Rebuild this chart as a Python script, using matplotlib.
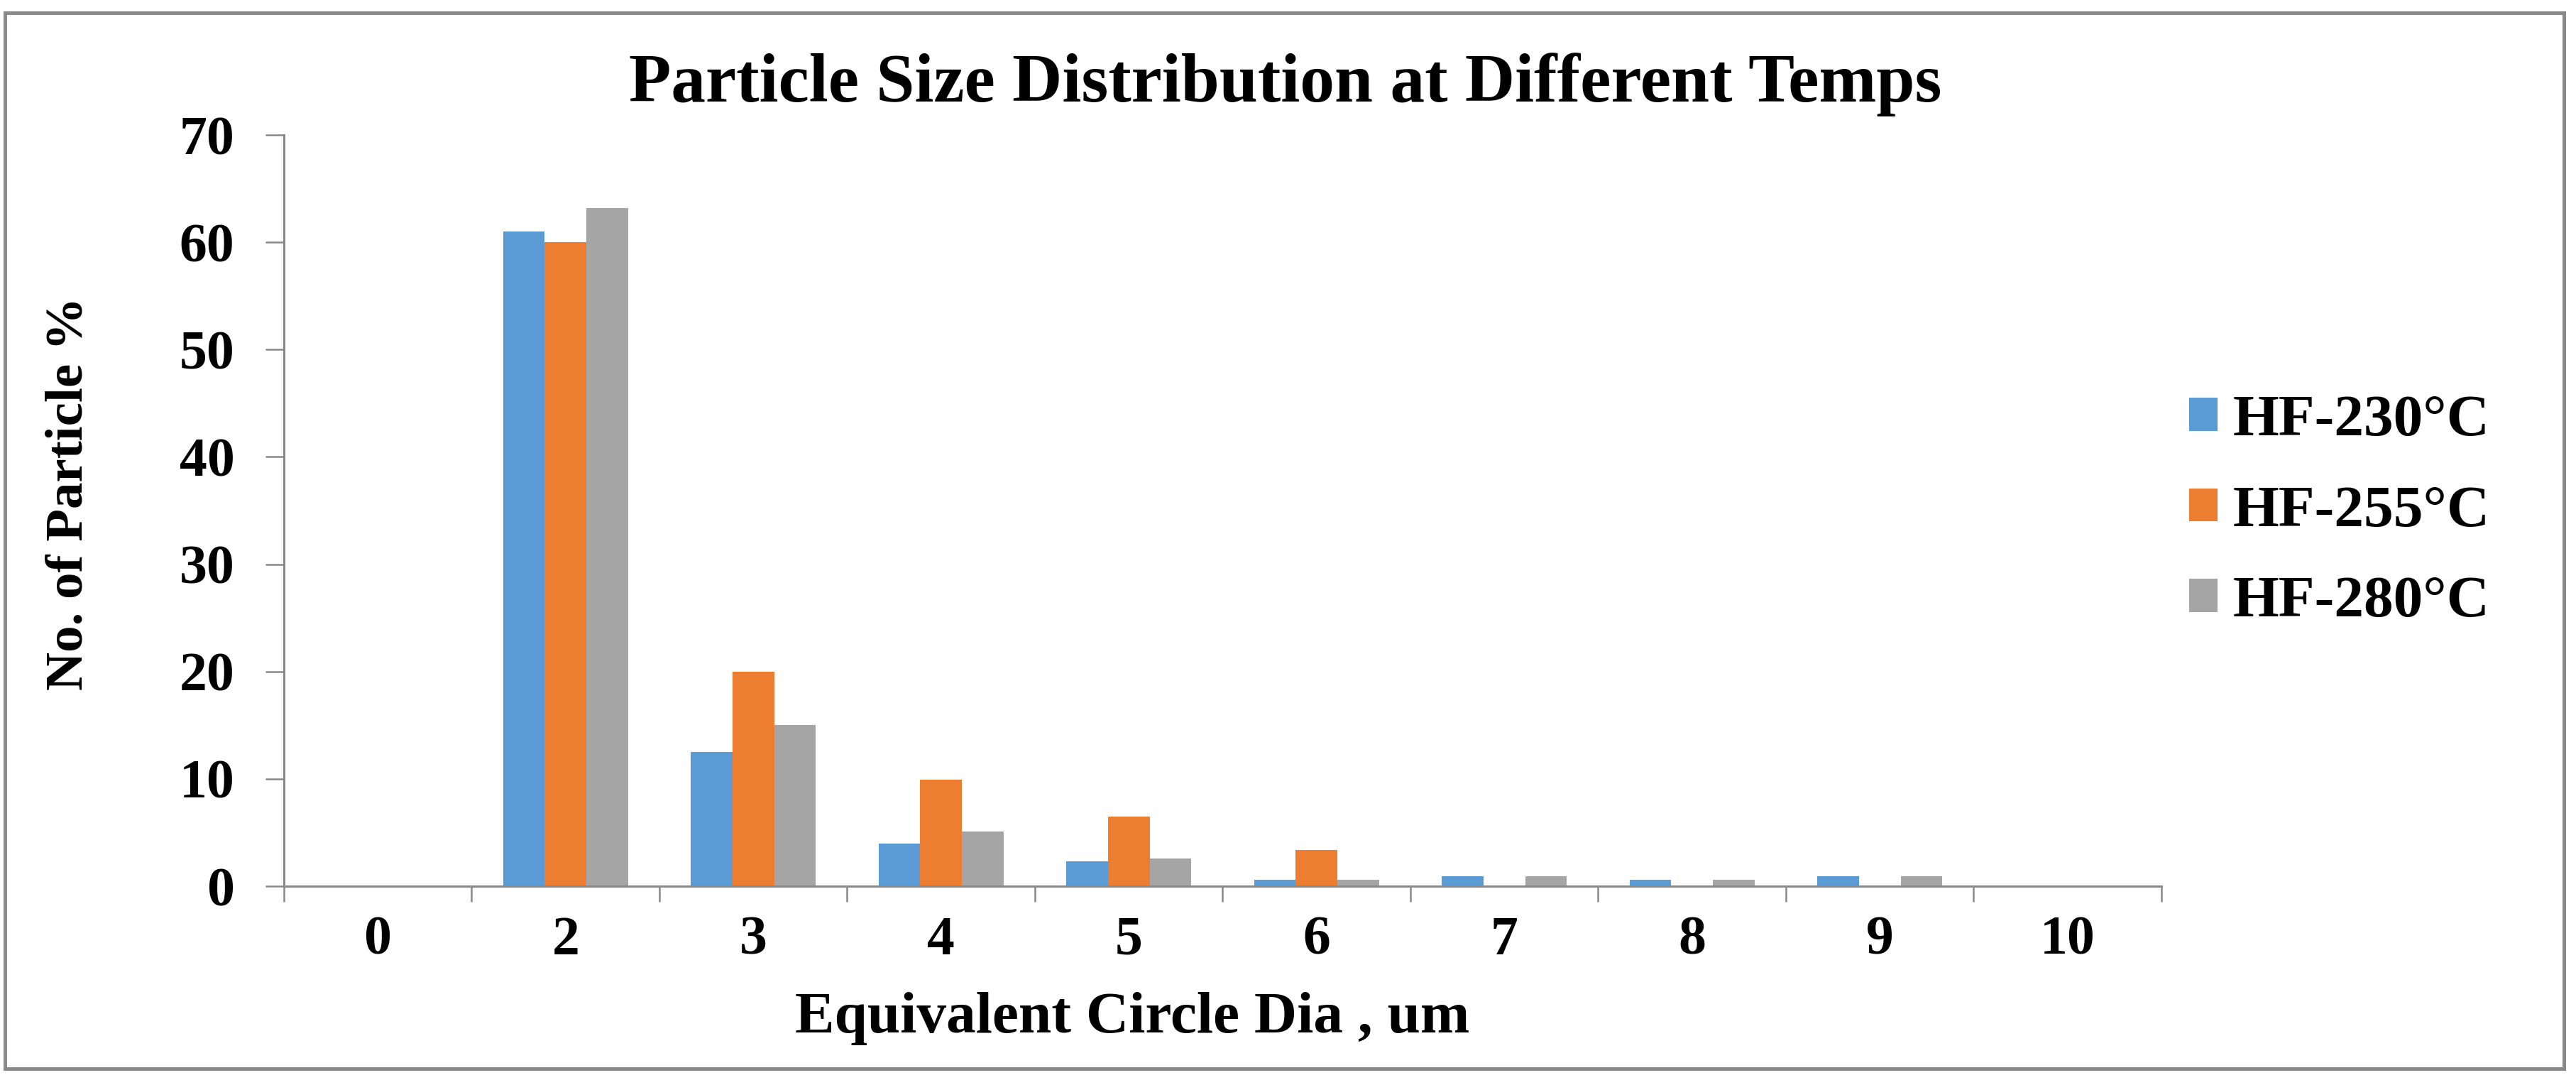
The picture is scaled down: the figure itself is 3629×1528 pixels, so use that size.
import matplotlib
matplotlib.use("Agg")
from matplotlib import pyplot as plt
from matplotlib.patches import Rectangle
import numpy as np

# values
categories = ["0", "2", "3", "4", "5", "6", "7", "8", "9", "10"]
hf230 = [0, 61.0, 12.5, 4.0, 2.3, 0.6, 0.9, 0.6, 0.9, 0]
hf255 = [0, 60.0, 20.0, 9.9, 6.5, 3.4, 0, 0, 0, 0]
hf280 = [0, 63.2, 15.0, 5.1, 2.6, 0.6, 0.9, 0.6, 0.9, 0]
series_names = ["HF-230\u00b0C", "HF-255\u00b0C", "HF-280\u00b0C"]
series_colors = ["#5B9BD5", "#ED7D31", "#A5A5A5"]

plt.rcParams['font.family'] = ['Liberation Serif', 'DejaVu Serif']
plt.rcParams['font.weight'] = 'bold'

W, H = 3630, 1528
fig = plt.figure(figsize=(W / 100, H / 100), dpi=100)

# outer frame
fig.patches.append(Rectangle((7 / W, 1 - 1505 / H), (3612 - 7) / W, (1505 - 18) / H,
                             transform=fig.transFigure, fill=False,
                             edgecolor="#8a8a8a", linewidth=3.6))

ax = fig.add_axes([400 / W, 1 - 1248 / H, (3045 - 400) / W, (1248 - 190) / H])

x = np.arange(len(categories))
bw = 0.222
for k, (vals, name, col) in enumerate(zip([hf230, hf255, hf280], series_names, series_colors)):
    ax.bar(x + (k - 1) * bw, vals, width=bw, color=col, label=name, zorder=2)

ax.set_xlim(-0.5, len(categories) - 0.5)
ax.set_ylim(0, 70)
ax.set_yticks(np.arange(0, 71, 10))

# category boundaries as major ticks, labels on minor ticks at centers
ax.set_xticks(np.arange(-0.5, len(categories), 1.0))
ax.set_xticklabels([])
ax.set_xticks(x, minor=True)
ax.set_xticklabels(categories, minor=True)
ax.tick_params(axis='x', which='major', length=16, width=1.8, color="#898989", direction='out')
ax.tick_params(axis='x', which='minor', length=0, pad=30, labelsize=56)
ax.tick_params(axis='y', length=19, width=1.8, color="#898989", direction='out', pad=31, labelsize=56)

for s in ["top", "right"]:
    ax.spines[s].set_visible(False)
for s in ["left", "bottom"]:
    ax.spines[s].set_color("#898989")
    ax.spines[s].set_linewidth(2.2)

for lab in ax.get_xticklabels(minor=True) + ax.get_yticklabels():
    lab.set_fontweight('bold')

fig.text(1811 / W, 1 - 143 / H, "Particle Size Distribution at Different Temps",
         ha='center', va='baseline', fontsize=70, fontweight='bold')
fig.text(1595 / W, 1 - 1454 / H, "Equivalent Circle Dia , um",
         ha='center', va='baseline', fontsize=60, fontweight='bold')
fig.text(98 / W, 1 - 695 / H, "No. of Particle %", rotation=90,
         ha='center', va='center', fontsize=54, fontweight='bold')

fig.legend(loc='center left', bbox_to_anchor=(3084 / W, 1 - 721 / H),
           frameon=False, handlelength=0.48, handleheight=0.48,
           handletextpad=0.26, labelspacing=0.63, borderpad=0, borderaxespad=0,
           prop={'weight': 'bold', 'size': 60})

fig.savefig("out.png", dpi=100, facecolor="white")
